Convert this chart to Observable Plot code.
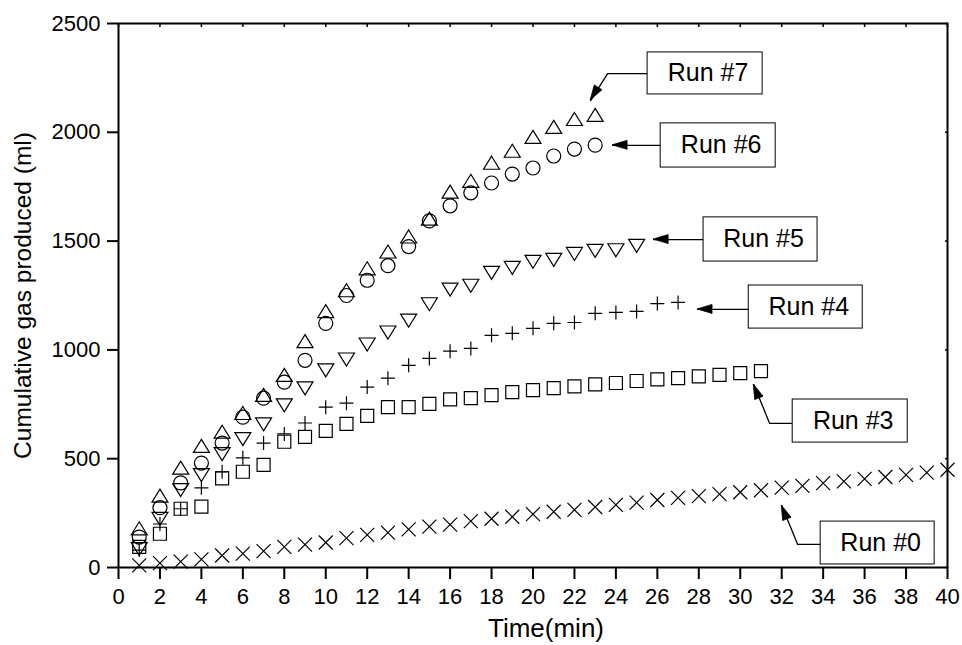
<!DOCTYPE html>
<html>
<head>
<meta charset="utf-8">
<script src="https://cdn.jsdelivr.net/npm/d3@7"></script>
<script src="https://cdn.jsdelivr.net/npm/@observablehq/plot@0.6"></script>
<style>
  html, body { margin: 0; padding: 0; background: #fff; }
  #chart svg { display: block; }
</style>
</head>
<body>
<div id="chart"></div>
<script>
// ---------- data ----------
const minutes = [1,2,3,4,5,6,7,8,9,10,11,12,13,14,15,16,17,18,19,20,21,22,23,24,25,26,27,28,29,30,31,32,33,34,35,36,37,38,39,40];
const run0 = [10,20,27,37,55,64,75,95,105,115,135,150,160,175,188,197,213,224,233,245,256,265,278,288,298,310,320,328,337,346,355,367,375,388,396,407,416,426,436,449];
const run3 = [95,155,270,280,410,440,472,578,600,628,660,697,737,737,752,773,778,792,806,815,824,832,842,848,857,865,870,878,885,893,902];
const run4 = [80,200,270,366,440,504,572,614,664,737,755,829,870,929,961,994,1007,1067,1076,1099,1122,1126,1168,1172,1177,1213,1218];
const run5 = [95,234,366,435,531,600,668,755,833,916,966,1035,1090,1145,1220,1287,1305,1364,1387,1415,1424,1451,1465,1468,1488];
const run6 = [140,275,389,480,572,691,778,852,952,1122,1250,1320,1387,1475,1593,1662,1722,1767,1808,1836,1891,1923,1941];
const run7 = [170,320,449,549,614,700,783,875,1030,1168,1264,1365,1442,1511,1593,1717,1767,1850,1905,1969,2015,2051,2070];

const xTicks = [0,2,4,6,8,10,12,14,16,18,20,22,24,26,28,30,32,34,36,38,40];
const yTicks = [0,500,1000,1500,2000,2500];

// annotation labels (data units)
const labelText = ["Run #7","Run #6","Run #5","Run #4","Run #3","Run #0"];
const labelX1 = [25.53,26.16,28.23,30.41,32.53,33.88];
const labelX2 = [31.08,31.71,33.73,35.91,38.08,39.38];
const labelY1 = [2174,1838,1406,1098,574,14];
const labelY2 = [2367,2041,1609,1296,772,211];
// leader lines (data units); last point of each is the arrow tip
const arrowId = [7,7,7, 6,6, 5,5, 4,4, 3,3,3, 0,0,0];
const arrowX  = [25.53,23.60,22.78, 26.16,23.84, 28.23,25.82, 30.41,27.94, 32.53,31.42,30.65, 33.88,32.77,32.0];
const arrowY  = [2270,2270,2146, 1940,1940, 1507,1507, 1186,1186, 662,662,841, 106,106,285];

// ---------- build tables ----------
const series = (vals) => vals.map((v, i) => ({t: minutes[i], v}));
const boxes = labelText.map((s, i) => ({s, x1: labelX1[i], x2: labelX2[i], y1: labelY1[i], y2: labelY2[i]}));
const arrows = arrowId.map((id, i) => ({id, x: arrowX[i], y: arrowY[i]}));

// ---------- custom open symbols ----------
const sym = (fn) => ({draw(ctx) { fn(ctx); }});
const upTri = sym(c => { c.moveTo(0,-8.7); c.lineTo(8,4.3); c.lineTo(-8,4.3); c.closePath(); });
const downTri = sym(c => { c.moveTo(0,8.7); c.lineTo(8,-4.3); c.lineTo(-8,-4.3); c.closePath(); });
const circ = sym(c => { c.moveTo(7,0); c.arc(0,0,7,0,2*Math.PI); c.closePath(); });
const sq = sym(c => { c.rect(-6.5,-6.5,13,13); });
const plus = sym(c => { c.moveTo(-7,0); c.lineTo(7,0); c.moveTo(0,-7); c.lineTo(0,7); });
const times = sym(c => { c.moveTo(-7,-7); c.lineTo(7,7); c.moveTo(7,-7); c.lineTo(-7,7); });

const dots = (vals, symbol) => Plot.dot(series(vals), {
  x: "t", y: "v", symbol, r: 8, fill: "none", stroke: "black", strokeWidth: 1.2
});

// arrowheads drawn in pixel space from the scales
function arrowHeads(index, scales) {
  const ns = "http://www.w3.org/2000/svg";
  const g = document.createElementNS(ns, "g");
  const groups = d3.group(arrows, d => d.id);
  for (const pts of groups.values()) {
    const n = pts.length;
    const ax = scales.x(pts[n-2].x), ay = scales.y(pts[n-2].y);
    const bx = scales.x(pts[n-1].x), by = scales.y(pts[n-1].y);
    const len = Math.hypot(bx - ax, by - ay);
    const ux = (bx - ax) / len, uy = (by - ay) / len;
    const L = 15, W = 4.5;
    const cx = bx - ux * L, cy = by - uy * L;
    const p = document.createElementNS(ns, "path");
    p.setAttribute("d", `M${bx},${by}L${cx - uy * W},${cy + ux * W}L${cx + uy * W},${cy - ux * W}Z`);
    p.setAttribute("fill", "black");
    p.setAttribute("stroke", "black");
    p.setAttribute("stroke-width", "0.8");
    g.appendChild(p);
  }
  return g;
}

const font = "'Liberation Sans', Arial, Helvetica, sans-serif";

const chart = Plot.plot({
  width: 962,
  height: 645,
  marginTop: 23,
  marginRight: 15,
  marginBottom: 78,
  marginLeft: 118,
  style: { fontFamily: font, fontSize: "22px", color: "black", background: "white" },
  x: { domain: [0, 40] },
  y: { domain: [0, 2500] },
  marks: [
    Plot.axisX({anchor: "bottom", ticks: xTicks, tickSize: 12, tickPadding: 9, tickFormat: d => String(d), fontSize: 22, strokeWidth: 2, label: null}),
    Plot.axisX({anchor: "top", ticks: xTicks, tickSize: 3, dy: 3, tickFormat: () => "", strokeWidth: 1.5, label: null}),
    Plot.axisY({anchor: "left", ticks: yTicks, tickSize: 11, tickPadding: 7, tickFormat: d => String(d), fontSize: 22, strokeWidth: 2, label: null}),
    Plot.axisY({anchor: "right", ticks: yTicks, tickSize: 3, dx: -3, tickFormat: () => "", strokeWidth: 1.5, label: null}),
    dots(run0, times),
    dots(run3, sq),
    dots(run4, plus),
    dots(run5, downTri),
    dots(run6, circ),
    dots(run7, upTri),
    Plot.line(arrows, {x: "x", y: "y", z: "id", stroke: "black", strokeWidth: 1.3}),
    arrowHeads,
    Plot.rect(boxes, {x1: "x1", x2: "x2", y1: "y1", y2: "y2", fill: "white", stroke: "black", strokeWidth: 1}),
    Plot.text(boxes, {x: d => (d.x1 + d.x2) / 2, y: d => (d.y1 + d.y2) / 2, text: "s", fontSize: 25, dx: 3, fill: "black"}),
    Plot.frame({stroke: "black", strokeWidth: 2}),
    Plot.text(["Time(min)"], {frameAnchor: "bottom", textAnchor: "middle", lineAnchor: "middle", dy: 61, dx: 13, fontSize: 26, fill: "black"}),
    Plot.text(["Cumulative gas produced (ml)"], {frameAnchor: "left", textAnchor: "middle", lineAnchor: "middle", rotate: -90, dx: -95, fontSize: 24.5, fill: "black"})
  ]
});
document.getElementById("chart").appendChild(chart);
</script>
</body>
</html>
